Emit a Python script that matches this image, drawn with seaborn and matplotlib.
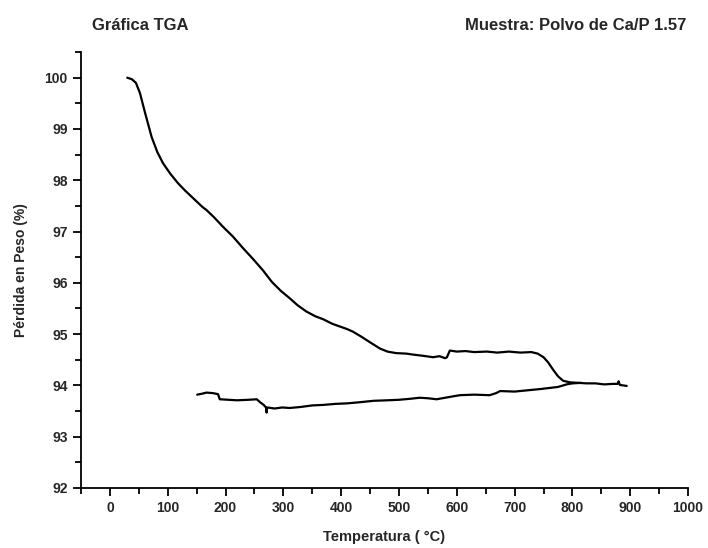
import numpy as np
import pandas as pd
import matplotlib.pyplot as plt
import seaborn as sns
from matplotlib.ticker import MultipleLocator

# heating curve
heat_temp = [30, 38, 45, 52, 60, 72, 82, 92, 105, 118, 130, 145, 160, 167, 180, 195,
             213, 230, 248, 265, 280, 296, 311, 325, 340, 355, 369, 385, 400, 410,
             420, 435, 450, 467, 480, 495, 513, 525, 540, 559, 570, 580, 583, 588,
             600, 615, 630, 652, 670, 690, 710, 729, 740, 750, 758, 767, 775, 784,
             796, 810, 825, 840, 855, 870, 878, 880, 882, 894]
heat_mass = [100.0, 99.97, 99.9, 99.7, 99.35, 98.85, 98.55, 98.33, 98.12, 97.94,
             97.8, 97.64, 97.48, 97.42, 97.28, 97.1, 96.9, 96.68, 96.46, 96.24,
             96.02, 95.84, 95.7, 95.56, 95.44, 95.35, 95.29, 95.2, 95.14, 95.1,
             95.05, 94.95, 94.84, 94.72, 94.66, 94.63, 94.62, 94.6, 94.58, 94.55,
             94.57, 94.53, 94.55, 94.68, 94.66, 94.67, 94.65, 94.66, 94.64, 94.66,
             94.64, 94.65, 94.62, 94.55, 94.45, 94.3, 94.18, 94.09, 94.06, 94.05,
             94.04, 94.04, 94.02, 94.03, 94.03, 94.08, 94.01, 93.99]

# cooling curve
cool_temp = [151, 160, 167, 178, 187, 190, 205, 220, 240, 254, 260, 266, 270, 271,
             272, 285, 298, 311, 330, 350, 369, 390, 410, 430, 456, 480, 500, 520,
             536, 550, 565, 580, 595, 606, 630, 657, 668, 675, 700, 727, 745, 760,
             775, 790, 800, 815]
cool_mass = [93.82, 93.84, 93.86, 93.85, 93.83, 93.73, 93.72, 93.71, 93.72, 93.73,
             93.67, 93.62, 93.57, 93.47, 93.57, 93.55, 93.57, 93.56, 93.58, 93.61,
             93.62, 93.64, 93.65, 93.67, 93.70, 93.71, 93.72, 93.74, 93.76, 93.75,
             93.73, 93.76, 93.79, 93.81, 93.82, 93.81, 93.85, 93.89, 93.88, 93.91,
             93.93, 93.95, 93.97, 94.02, 94.04, 94.05]

x_ticks = list(range(0, 1001, 100))
y_ticks = list(range(92, 101))

sns.set_style("ticks")
plt.rcParams['font.family'] = ['Liberation Sans', 'DejaVu Sans']
plt.rcParams['font.weight'] = 'bold'

fig = plt.figure(figsize=(7.08, 5.48), dpi=100)
ax = fig.add_axes([0.1144, 0.1095, 0.8574, 0.7955])

heat = pd.DataFrame({"temp": heat_temp, "mass": heat_mass})
cool = pd.DataFrame({"temp": cool_temp, "mass": cool_mass})
sns.lineplot(data=heat, x="temp", y="mass", color="black", linewidth=1.6,
             estimator=None, sort=False, ax=ax)
sns.lineplot(data=cool, x="temp", y="mass", color="black", linewidth=1.6,
             estimator=None, sort=False, ax=ax)

ax.set_xlim(-50, 1000)
ax.set_ylim(92, 100.5)
ax.set_xticks(x_ticks)
ax.set_yticks(y_ticks)
ax.xaxis.set_minor_locator(MultipleLocator(50))
ax.yaxis.set_minor_locator(MultipleLocator(0.5))
ax.tick_params(which="major", length=6, width=1.3, labelsize=10, direction="out", color="black")
ax.tick_params(which="minor", length=4, width=1.3, direction="out", color="black")
for lab in ax.get_xticklabels() + ax.get_yticklabels():
    lab.set_fontweight("bold")

sns.despine(ax=ax)
for side in ["left", "bottom"]:
    ax.spines[side].set_linewidth(1.3)
    ax.spines[side].set_color("black")

ax.set_xlabel("Temperatura ( °C)", fontsize=10.5, fontweight="bold", labelpad=11)
ax.set_ylabel("Pérdida en Peso (%)", fontsize=10, fontweight="bold", labelpad=12)

fig.text(92 / 708, 1 - 25 / 548, "Gráfica TGA", fontsize=12, fontweight="bold",
         ha="left", va="center")
fig.text(686 / 708, 1 - 25 / 548, "Muestra: Polvo de Ca/P 1.57", fontsize=12,
         fontweight="bold", ha="right", va="center")

fig.savefig("out.png", dpi=100)
